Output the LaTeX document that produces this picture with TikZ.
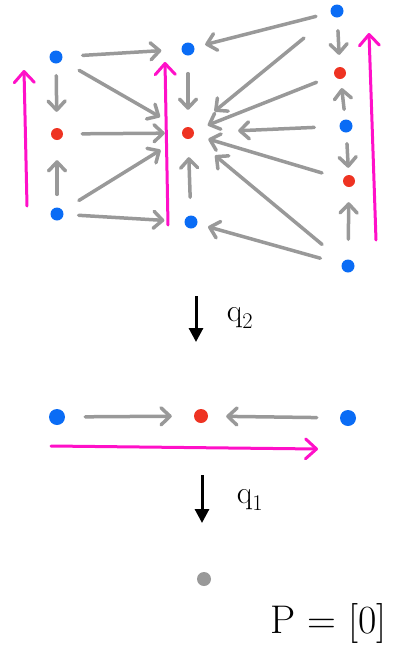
\documentclass[tikz,border=0pt]{standalone}
\usepackage{fontspec}
\usetikzlibrary{arrows.meta}
\definecolor{dotblue}{HTML}{0A6CF5}
\definecolor{dotred}{HTML}{EE3322}
\definecolor{flowgray}{HTML}{999999}
\definecolor{liftpink}{HTML}{FF10C8}
\begin{document}
\begin{tikzpicture}[x=1pt,y=-1pt,
  bdot/.style={circle,fill=dotblue,inner sep=0pt,minimum size=13pt},
  rdot/.style={circle,fill=dotred,inner sep=0pt,minimum size=12pt},
  bigbdot/.style={circle,fill=dotblue,inner sep=0pt,minimum size=16pt},
  bigrdot/.style={circle,fill=dotred,inner sep=0pt,minimum size=14pt},
  gdot/.style={circle,fill=flowgray,inner sep=0pt,minimum size=14pt},
  flow/.style={draw=flowgray,line width=3.5pt,line cap=round,
    -{Straight Barb[round,length=9pt,width=17pt]}},
  gap/.style 2 args={shorten <=#1pt,shorten >=#2pt},
  lift/.style={draw=liftpink,line width=3pt,line cap=round,
    -{Straight Barb[round,length=11pt,width=20pt]}},
  proj/.style={draw=black,line width=3pt,
    -{Triangle[length=14pt,width=14pt]}},
  lbl/.style={font=\fontsize{32}{32}\selectfont,inner sep=0pt}]
\useasboundingbox (0,0) rectangle (405,646);

% top level: three columns of states
\node[bdot] (lb1) at (56,57) {};
\node[rdot] (lr)  at (57,134) {};
\node[bdot] (lb2) at (57,214) {};
\node[bdot] (mb1) at (188,49) {};
\node[rdot] (mr)  at (188,133) {};
\node[bdot] (mb2) at (191,222) {};
\node[bdot] (rb1) at (337,11) {};
\node[rdot] (rr1) at (340,73) {};
\node[bdot] (rb2) at (346,126) {};
\node[rdot] (rr2) at (349,181) {};
\node[bdot] (rb3) at (348,266) {};

% flows inside the columns
\draw[flow,gap={12}{16}] (lb1) -- (lr);
\draw[flow,gap={13}{20}] (lb2) -- (lr);
\draw[flow,gap={18}{17}] (mb1) -- (mr);
\draw[flow,gap={18}{18}] (mb2) -- (mr);
\draw[flow,gap={13}{12}] (rb1) -- (rr1);
\draw[flow,gap={10}{9}]  (rb2) -- (rr1);
\draw[flow,gap={11}{7}]  (rb2) -- (rr2);
\draw[flow,gap={20}{15}] (rb3) -- (rr2);

% flows from the left column
\draw[flow,gap={20}{20}] (lb1) -- (mb1);
\draw[flow,gap={20}{26}] (lb1) -- (mr);
\draw[flow,gap={19}{17}] (lr) -- (mr);
\draw[flow,gap={19}{26}] (lb2) -- (mr);
\draw[flow,gap={15}{20}] (lb2) -- (mb2);

% flows from the right column
\draw[flow,gap={15}{11}] (rb1) -- (mb1);
\draw[flow,gap={36}{28}] (rb1) -- (mr);
\draw[flow,gap={19}{15}] (rr1) -- (mr);
\draw[flow,gap={25}{44}] (rb2) -- (mr);
\draw[flow,gap={22}{15}] (rr2) -- (mr);
\draw[flow,gap={27}{29}] (rb3) -- (mr);
\draw[flow,gap={22}{11}] (rb3) -- (mb2);

% lifts along the columns
\coordinate (u1a) at (27,206);  \coordinate (u1b) at (24,70);
\coordinate (u2a) at (168,225); \coordinate (u2b) at (165,62);
\coordinate (u3a) at (376,240); \coordinate (u3b) at (369,33);
\draw[lift] (u1a) -- (u1b);
\draw[lift] (u2a) -- (u2b);
\draw[lift] (u3a) -- (u3b);

% first quotient
\coordinate (q2a) at (196,296); \coordinate (q2b) at (196,342);
\draw[proj] (q2a) -- (q2b);
\node[lbl] (q2l) at (240,318) {q\textsubscript{2}};

% middle level
\node[bigbdot] (nb1) at (57,417) {};
\node[bigrdot] (nr)  at (201,416) {};
\node[bigbdot] (nb2) at (348,418) {};
\draw[flow,gap={20}{22}] (nb1) -- (nr);
\draw[flow,gap={23}{18}] (nb2) -- (nr);
\coordinate (u4a) at (51,446); \coordinate (u4b) at (318,449);
\draw[lift] (u4a) -- (u4b);

% second quotient
\coordinate (q1a) at (202,475); \coordinate (q1b) at (202,523);
\draw[proj] (q1a) -- (q1b);
\node[lbl] (q1l) at (250,500) {q\textsubscript{1}};

% bottom level
\node[font=\fontsize{40}{40}\selectfont,inner sep=0pt,anchor=base west] (pl) at (270,633) {P = [0]};
\node[gdot] (pt) at (204,579) {};
\end{tikzpicture}
\end{document}
